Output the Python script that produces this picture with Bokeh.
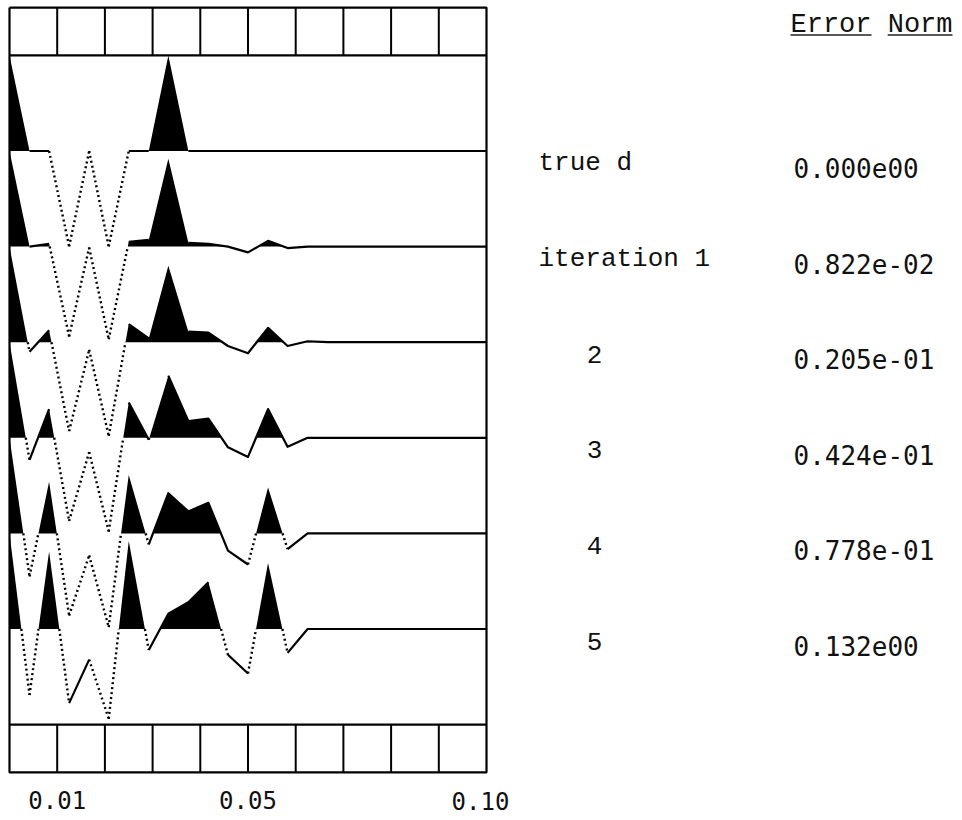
from bokeh.plotting import figure
from bokeh.models import Range1d
from bokeh.core.properties import value
from bokeh.embed import file_html
from bokeh.resources import INLINE

# ---------------- data ----------------
# sample positions (25 nodes across 0 .. 0.10)
x_nodes = [0.0000, 0.0042, 0.0083, 0.0125, 0.0167, 0.0208, 0.0250, 0.0292,
           0.0333, 0.0375, 0.0417, 0.0458, 0.0500, 0.0542, 0.0583, 0.0625,
           0.0667, 0.0708, 0.0750, 0.0792, 0.0833, 0.0875, 0.0917, 0.0958,
           0.1000]

true_d = [1.00, 0.00, 0.00, -1.00, 0.00, -1.00, 0.00, 0.00, 1.00, 0.00,
          0.00, 0.00, 0.00, 0.00, 0.00, 0.00, 0.00, 0.00, 0.00, 0.00,
          0.00, 0.00, 0.00, 0.00, 0.00]
iter_1 = [1.00, 0.00, 0.03, -0.94, -0.01, -0.97, 0.05, 0.07, 0.92, 0.04,
          0.03, 0.00, -0.06, 0.06, -0.015, 0.00, 0.00, 0.00, 0.00, 0.00,
          0.00, 0.00, 0.00, 0.00, 0.00]
iter_2 = [1.00, -0.10, 0.125, -0.93, -0.08, -0.98, 0.19, 0.04, 0.80, 0.11,
          0.10, -0.04, -0.115, 0.15, -0.04, 0.01, 0.00, 0.00, 0.00, 0.00,
          0.00, 0.00, 0.00, 0.00, 0.00]
iter_3 = [1.00, -0.23, 0.30, -0.87, -0.15, -0.98, 0.37, -0.02, 0.65, 0.175,
          0.20, -0.10, -0.20, 0.30, -0.094, 0.00, 0.00, 0.00, 0.00, 0.00,
          0.00, 0.00, 0.00, 0.00, 0.00]
iter_4 = [1.00, -0.45, 0.54, -0.86, -0.23, -0.98, 0.61, -0.115, 0.42, 0.23,
          0.32, -0.18, -0.325, 0.48, -0.165, 0.00, 0.00, 0.00, 0.00, 0.00,
          0.00, 0.00, 0.00, 0.00, 0.00]
iter_5 = [1.00, -0.69, 0.81, -0.775, -0.32, -0.94, 0.92, -0.22, 0.16, 0.28,
          0.49, -0.27, -0.465, 0.69, -0.25, 0.00, 0.00, 0.00, 0.00, 0.00,
          0.00, 0.00, 0.00, 0.00, 0.00]

traces = [true_d, iter_1, iter_2, iter_3, iter_4, iter_5]
row_labels = ["true d", "iteration 1", "2", "3", "4", "5"]
error_norms = ["0.000e00", "0.822e-02", "0.205e-01", "0.424e-01",
               "0.778e-01", "0.132e00"]

column_edges = [0.01, 0.02, 0.03, 0.04, 0.05, 0.06, 0.07, 0.08, 0.09]
tick_values = [0.01, 0.05, 0.10]
tick_labels = ["0.01", "0.05", "0.10"]

# ---------------- layout constants ----------------
X0, X1 = 0.0, 0.10          # panel extent in x
Y_TOP, Y_BOT = 1.5, -6.5     # panel extent in y (trace spacing = 1)
BOX_H = 0.5
STEEP = 0.55                 # steep segments are drawn dotted (dot-matrix look)

p = figure(width=960, height=818, output_backend="svg", toolbar_location=None,
           x_range=Range1d(-0.0018868, 0.199371),
           y_range=Range1d(-6.9822, 1.5743),
           x_axis_location=None, y_axis_location=None, min_border=0,
           outline_line_color=None, background_fill_color="white",
           border_fill_color="white")
p.grid.visible = False

# ---------------- traces ----------------
for j, v in enumerate(traces):
    off = -j
    # positive part filled black
    fx, fy = [], []
    for k in range(len(x_nodes) - 1):
        xa, xb, va, vb = x_nodes[k], x_nodes[k + 1], v[k], v[k + 1]
        fx.append(xa); fy.append(max(va, 0.0))
        if va * vb < 0:
            xc = xa + (xb - xa) * va / (va - vb)
            fx.append(xc); fy.append(0.0)
    fx.append(x_nodes[-1]); fy.append(max(v[-1], 0.0))
    p.varea(x=fx, y1=[off] * len(fx), y2=[off + y for y in fy],
            fill_color="black")

    # lines: solid runs and dotted steep negative pieces
    solid_xs, solid_ys, dot_xs, dot_ys = [], [], [], []
    run_x, run_y = [], []
    for k in range(len(x_nodes) - 1):
        xa, xb, va, vb = x_nodes[k], x_nodes[k + 1], v[k], v[k + 1]
        if abs(vb - va) > STEEP:
            if run_x:
                solid_xs.append(run_x); solid_ys.append(run_y)
                run_x, run_y = [], []
            if va <= 0 and vb <= 0:
                dot_xs.append([xa, xb]); dot_ys.append([off + va, off + vb])
            elif va * vb < 0:
                xc = xa + (xb - xa) * va / (va - vb)
                if va < 0:
                    dot_xs.append([xa, xc]); dot_ys.append([off + va, off])
                else:
                    dot_xs.append([xc, xb]); dot_ys.append([off, off + vb])
        else:
            if not run_x:
                run_x, run_y = [xa], [off + va]
            run_x.append(xb); run_y.append(off + vb)
    if run_x:
        solid_xs.append(run_x); solid_ys.append(run_y)
    p.multi_line(xs=solid_xs, ys=solid_ys, line_color="black", line_width=2.2,
                 line_join="round")
    p.multi_line(xs=dot_xs, ys=dot_ys, line_color="black", line_width=2.4,
                 line_dash="2 3")

# ---------------- frame with box rows ----------------
p.line(x=[X0, X1, X1, X0, X0], y=[Y_TOP, Y_TOP, Y_BOT, Y_BOT, Y_TOP],
       line_color="black", line_width=2.2)
p.segment(x0=[X0, X0], y0=[Y_TOP - BOX_H, Y_BOT + BOX_H],
          x1=[X1, X1], y1=[Y_TOP - BOX_H, Y_BOT + BOX_H],
          line_color="black", line_width=2.2)
p.segment(x0=column_edges, y0=[Y_TOP] * len(column_edges),
          x1=column_edges, y1=[Y_TOP - BOX_H] * len(column_edges),
          line_color="black", line_width=2)
p.segment(x0=column_edges, y0=[Y_BOT] * len(column_edges),
          x1=column_edges, y1=[Y_BOT + BOX_H] * len(column_edges),
          line_color="black", line_width=2)

# ---------------- tick labels ----------------
tick_y = [-6.789, -6.789, -6.80]
p.text(x=tick_values, y=tick_y, text=tick_labels, x_offset=[0, 0, -6],
       text_font=value("DejaVu Sans Mono"), text_font_size="24px",
       text_align="center", text_baseline="alphabetic", text_color="#111111")

# ---------------- right-hand annotations ----------------
label_x = [0.1109, 0.1109, 0.1210, 0.1210, 0.1210, 0.1210]
label_y = [-j - 0.126 for j in range(len(traces))]
value_x = [0.16436] * len(traces)
value_y = [-j - 0.178 for j in range(len(traces))]
p.text(x=label_x, y=label_y, text=row_labels,
       text_font=value("Liberation Mono"), text_font_size="26px",
       text_align="left", text_baseline="alphabetic", text_color="#111111")
p.text(x=value_x, y=value_y, text=error_norms,
       text_font=value("DejaVu Sans Mono"), text_font_size="26px",
       text_align="left", text_baseline="alphabetic", text_color="#111111")

hdr_x, hdr_y, ul_y = 0.16373, 1.318, 1.213
cw = 0.6 * 27 / 4770.0
p.text(x=[hdr_x], y=[hdr_y], text=["Error Norm"],
       text_font=value("Liberation Mono"), text_font_size="27px",
       text_align="left", text_baseline="alphabetic", text_color="#111111")
p.segment(x0=[hdr_x, hdr_x + 6 * cw], y0=[ul_y] * 2,
          x1=[hdr_x + 5 * cw, hdr_x + 10 * cw], y1=[ul_y] * 2,
          line_color="#222222", line_width=1.5)

open("out.html", "w").write(file_html(p, INLINE))
